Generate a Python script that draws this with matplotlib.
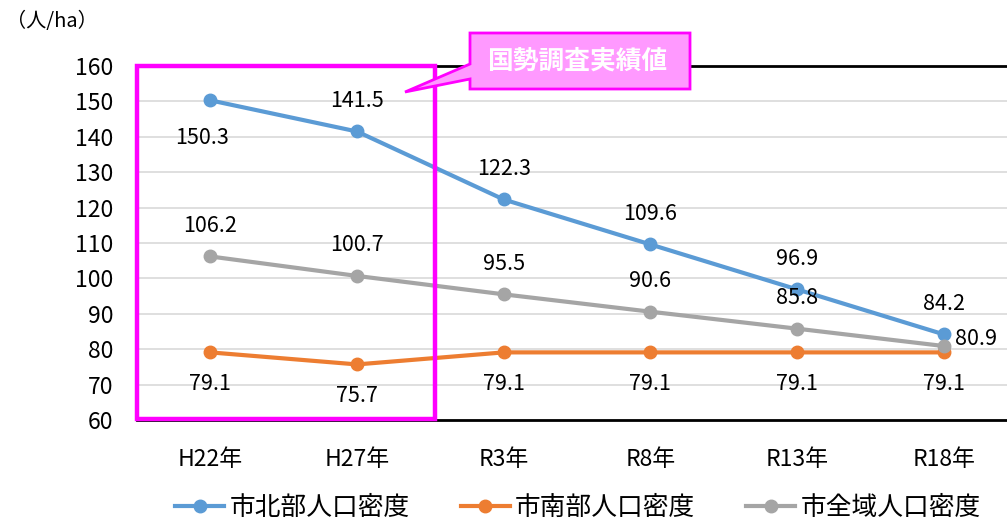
import matplotlib
matplotlib.use("Agg")
import matplotlib.pyplot as plt
from matplotlib.patches import Rectangle, Polygon

plt.rcParams['font.family'] = ['Noto Sans CJK JP', 'DejaVu Sans']

categories = ["H22年", "H27年", "R3年", "R8年", "R13年", "R18年"]
north = [150.3, 141.5, 122.3, 109.6, 96.9, 84.2]
south = [79.1, 75.7, 79.1, 79.1, 79.1, 79.1]
whole = [106.2, 100.7, 95.5, 90.6, 85.8, 80.9]
series_names = ["市北部人口密度", "市南部人口密度", "市全域人口密度"]
y_ticks = [60, 70, 80, 90, 100, 110, 120, 130, 140, 150, 160]

W, H = 1007, 521
fig = plt.figure(figsize=(W / 100, H / 100), dpi=100)
ax = fig.add_axes([137 / W, 101 / H, 880 / W, 354 / H])

x = list(range(len(categories)))
blue, orange, gray = "#5B9BD5", "#ED7D31", "#A5A5A5"
lw, ms = 3.0, 9
ax.plot(x, north, color=blue, lw=lw, marker="o", ms=ms, label=series_names[0], zorder=4)
ax.plot(x, south, color=orange, lw=lw, marker="o", ms=ms, label=series_names[1], zorder=3)
ax.plot(x, whole, color=gray, lw=lw, marker="o", ms=ms, label=series_names[2], zorder=5)

ax.set_xlim(-0.5, 5.5)
ax.set_ylim(60, 160)
ax.set_yticks(y_ticks)
ax.set_xticks(x)
ax.set_xticklabels(categories)
ax.tick_params(axis="both", length=0, labelsize=16.5, colors="black")
ax.tick_params(axis="x", pad=20)
ax.tick_params(axis="y", pad=17)
ax.grid(axis="y", color="#D9D9D9", lw=1.2, zorder=0)
ax.set_axisbelow(True)
for side in ("left", "right"):
    ax.spines[side].set_visible(False)
for side in ("top", "bottom"):
    ax.spines[side].set_color("black")
    ax.spines[side].set_linewidth(2.0)

fs = 15.5
# data labels
north_off = [(-6, -27), (0, 22), (0, 22), (0, 22), (0, 22), (0, 22)]
for xi, v, (dx, dy) in zip(x, north, north_off):
    ax.annotate(f"{v:.1f}", (xi, v), xytext=(dx, dy), textcoords="offset points",
                ha="center", va="center", fontsize=fs, zorder=6)
for xi, v in zip(x, whole):
    if xi == len(x) - 1:
        ax.annotate(f"{v:.1f}", (xi, v), xytext=(8, 5), textcoords="offset points",
                    ha="left", va="center", fontsize=fs, zorder=6)
    else:
        ax.annotate(f"{v:.1f}", (xi, v), xytext=(0, 22), textcoords="offset points",
                    ha="center", va="center", fontsize=fs, zorder=6)
for xi, v in zip(x, south):
    ax.annotate(f"{v:.1f}", (xi, v), xytext=(0, -23), textcoords="offset points",
                ha="center", va="center", fontsize=fs, zorder=6)

# highlight frame around census years
magenta = "#FF00FF"
ax.add_patch(Rectangle((-0.5, 60.4), 2.034, 99.6, fill=False, edgecolor=magenta,
                       lw=3.2, clip_on=False, zorder=7))

# callout label
def px(pts):
    return [(a, H - b) for a, b in pts]

callout = px([(470, 33), (690, 33), (690, 89), (470, 89), (470, 79), (405, 92), (470, 64)])
fig.patches.append(Polygon(callout, closed=True, facecolor="#FF99FF", edgecolor=magenta,
                           lw=2.0, transform=None, figure=fig, zorder=8))
fig.text(577 / W, 1 - 61 / H, "国勢調査実績値", color="white", fontsize=18.5,
         fontweight="bold", ha="center", va="center", zorder=9)

fig.text(6 / W, 1 - 22 / H, "（人/ha）", fontsize=14.5, ha="left", va="center")

fig.legend(loc="center", bbox_to_anchor=(578 / W, 1 - 508 / H), ncol=3, frameon=False,
           fontsize=18.5, handlelength=1.9, columnspacing=2.0, handletextpad=0.2)

fig.savefig("out.png", dpi=100)
